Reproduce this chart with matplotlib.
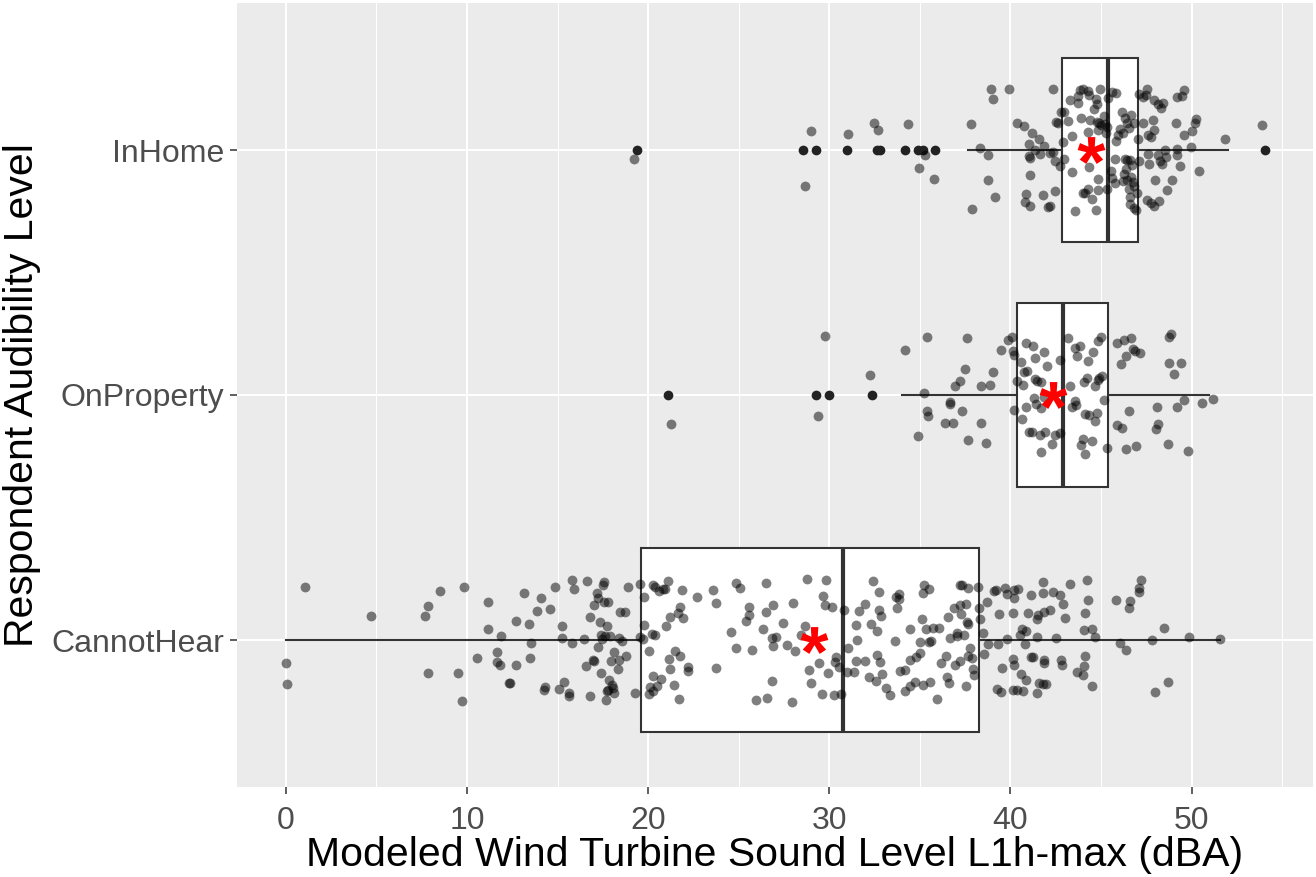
import numpy as np
import matplotlib
matplotlib.use("Agg")
import matplotlib.pyplot as plt
from matplotlib.textpath import TextPath
from matplotlib.font_manager import FontProperties
from matplotlib.path import Path
from matplotlib.ticker import MultipleLocator, FixedLocator

plt.rcParams["font.family"] = ["Liberation Sans", "DejaVu Sans"]

# ---------------------------------------------------------------- data
categories = ["CannotHear", "OnProperty", "InHome"]

# five-number summaries and means per audibility group (dBA)
box_q1 = [19.60, 40.37, 42.84]
box_median = [30.75, 42.89, 45.40]
box_q3 = [38.25, 45.40, 47.05]
whisker_low = [0.00, 34.00, 37.64]
whisker_high = [51.54, 50.96, 52.00]
group_mean = [29.15, 42.36, 44.46]

outliers_cannot_hear = []
outliers_on_property = [21.09, 29.24, 29.98, 32.36]
outliers_in_home = [19.36, 28.55, 29.26, 30.98, 32.63, 32.78, 34.16, 34.92,
                    35.19, 35.86, 54.03]

# respondents: (sound level dBA, vertical jitter in category units)
points_cannot_hear = [
    (1.05, 0.218), (4.69, 0.10), (0.0, -0.094), (0.05, -0.18), (7.83, 0.14),
    (7.68, 0.10), (8.53, 0.20), (9.85, 0.215), (7.83, -0.135), (9.52, -0.136),
    (9.71, -0.248), (11.16, 0.154), (11.14, 0.045), (11.86, 0.018), (10.57, -0.075),
    (11.65, -0.05), (11.65, -0.09), (11.82, -0.10), (12.32, -0.177), (12.38, -0.177),
    (12.72, -0.10), (12.70, 0.078), (13.13, 0.193), (13.42, 0.065), (13.55, -0.014),
    (13.47, -0.073), (13.84, 0.117), (14.08, 0.171), (14.58, 0.125), (14.83, 0.215),
    (15.24, 0.058), (15.24, 0.008), (15.77, -0.012), (14.28, -0.19), (14.25, -0.204),
    (15.07, -0.20), (15.35, -0.17), (15.64, -0.216), (15.64, -0.23), (15.79, 0.244),
    (15.88, 0.207), (16.6, 0.24), (16.43, 0.004), (16.78, 0.093), (16.99, 0.141),
    (17.19, 0.193), (17.24, 0.17), (17.54, 0.238), (17.52, 0.226), (17.57, 0.155),
    (17.78, 0.155), (17.33, 0.073), (17.74, 0.058), (17.41, 0.02), (17.59, 0.015),
    (17.87, 0.015), (17.44, 0.004), (17.21, -0.03), (16.56, -0.105), (16.93, -0.082),
    (16.99, -0.087), (17.37, -0.135), (16.78, -0.23), (17.65, -0.245), (17.81, -0.165),
    (17.98, -0.182), (18.07, -0.196), (17.78, -0.203), (17.72, -0.207), (18.13, -0.218),
    (18.11, -0.05), (17.96, -0.087), (18.38, -0.082), (18.33, -0.118), (18.75, -0.064),
    (18.38, 0.007), (18.57, -0.005), (18.47, 0.113), (18.70, 0.116), (18.86, 0.218),
    (19.56, 0.227), (19.28, -0.218), (19.54, 0.014), (19.76, 0.174), (19.76, 0.06),
    (19.72, 0.003), (20.06, -0.046), (20.22, 0.026), (20.37, 0.02), (20.24, 0.226),
    (20.35, 0.216), (20.57, 0.2), (20.83, 0.207), (20.9, 0.21), (21.12, 0.242),
    (21.84, 0.203), (21.01, 0.057), (21.23, 0.095), (21.62, 0.112), (21.75, 0.135),
    (21.91, 0.091), (21.47, -0.046), (21.78, -0.064), (21.14, -0.078), (21.19, -0.117),
    (22.22, -0.11), (22.19, -0.128), (20.28, -0.146), (20.70, -0.158), (20.51, -0.189),
    (20.09, -0.19), (20.24, -0.208), (20.07, -0.22), (21.43, -0.182), (21.71, -0.24),
    (22.70, 0.174), (23.55, 0.204), (23.75, 0.151), (23.77, -0.116),
    (24.57, 0.033), (24.87, 0.233), (25.09, 0.211), (25.57, 0.135), (25.57, 0.103),
    (25.41, 0.076), (24.87, -0.033), (25.74, -0.039), (26.35, 0.046), (26.52, 0.234),
    (26.48, 0.113), (26.87, 0.144), (26.87, -0.023), (27.04, 0.014), (26.83, 0.007),
    (27.46, 0.068), (27.65, -0.022), (27.98, 0.15), (28.11, -0.045), (26.83, -0.169),
    (25.96, -0.244), (26.57, -0.237), (27.96, -0.252), (28.63, 0.059), (28.46, 0.02),
    (28.74, 0.249), (29.8, 0.244), (29.65, 0.181), (29.76, 0.141), (30.15, 0.135),
    (29.43, -0.093), (28.87, -0.124), (28.96, -0.177), (29.91, -0.136), (29.59, -0.222),
    (30.28, -0.223), (30.35, -0.068), (30.30, -0.09), (30.54, -0.11), (30.67, -0.219),
    (30.83, 0.121), (31.04, -0.034), (30.98, -0.132), (31.37, -0.129), (31.46, 0.063),
    (31.54, 0.0), (31.63, 0.12), (31.98, 0.148), (31.46, -0.084), (31.98, -0.084),
    (32.17, -0.151), (32.43, 0.242), (32.72, 0.195), (32.74, 0.124), (32.87, 0.097),
    (32.30, 0.067), (32.63, 0.035), (32.63, -0.061), (32.80, -0.088), (32.59, -0.167),
    (32.91, -0.139), (33.15, -0.197), (33.33, -0.224), (33.63, -0.003), (33.76, 0.129),
    (33.7, 0.176), (33.85, 0.189), (33.85, 0.169), (33.91, -0.128), (34.2, -0.121),
    (34.15, -0.207), (34.46, 0.046), (34.46, -0.08), (34.8, -0.068), (34.98, -0.054),
    (35.0, -0.01), (35.09, 0.086), (34.72, -0.173), (34.48, -0.188), (35.17, -0.185),
    (35.2, 0.226), (35.17, 0.19), (35.52, 0.21), (35.35, 0.046), (35.7, 0.048),
    (36.04, 0.049), (35.5, -0.008), (35.63, -0.005), (35.57, -0.17), (35.96, -0.24),
    (36.15, -0.093), (36.46, -0.065), (36.54, 0.095), (36.5, -0.152), (36.63, -0.177),
    (36.67, 0.008), (36.87, 0.129), (36.96, -0.1), (37.02, 0.018), (37.04, 0.029),
    (37.2, 0.141), (37.26, 0.106), (37.2, 0.224), (37.35, 0.223), (37.57, 0.147),
    (37.41, 0.02), (37.24, -0.084), (37.63, 0.214), (37.59, 0.073), (37.67, 0.067),
    (37.78, -0.031), (37.67, -0.065), (37.89, -0.075), (37.93, -0.117), (37.96, -0.144),
    (37.57, -0.189), (38.2, 0.215), (38.24, 0.129), (38.33, 0.087), (38.46, 0.03),
    (38.54, -0.056), (38.7, 0.156), (38.76, -0.015), (39.07, 0.199), (39.22, 0.203),
    (39.30, -0.018), (39.35, 0.106), (39.54, -0.116), (39.7, 0.212), (39.78, 0.188),
    (40.2, 0.17), (40.17, 0.205), (40.39, 0.21), (40.13, 0.112), (39.83, 0.003),
    (39.24, -0.199), (39.48, -0.212), (40.13, -0.204), (40.37, -0.205), (40.67, -0.207),
    (40.13, -0.076), (40.22, -0.102), (40.59, -0.139), (40.85, -0.163), (40.63, 0.046),
    (40.85, 0.038), (40.54, 0.019), (40.8, -0.016), (41.11, -0.069), (41.22, -0.069),
    (40.96, 0.112), (41.15, 0.184), (41.46, 0.084), (41.52, 0.101), (41.48, 0.014),
    (41.48, -0.218), (41.59, -0.177), (41.8, -0.178), (41.98, -0.181), (41.85, -0.082),
    (41.83, -0.095), (41.78, 0.237), (41.78, 0.193), (41.85, 0.116), (42.17, 0.121),
    (42.35, 0.197), (42.5, 0.008), (42.74, 0.184), (42.89, 0.146), (43.02, 0.091),
    (42.8, -0.082), (42.85, -0.103), (43.28, 0.23), (43.65, -0.132), (44.0, -0.141),
    (44.07, -0.105), (44.09, -0.064), (44.09, 0.109), (44.07, 0.042), (44.52, 0.046),
    (44.65, 0.011), (44.22, 0.244), (44.26, 0.165), (44.48, -0.189), (45.83, 0.163),
    (46.07, -0.012), (46.35, -0.041), (46.52, 0.129), (46.59, 0.159), (47.11, 0.195),
    (47.11, 0.214), (47.22, 0.245), (47.8, -0.001), (47.96, -0.212), (48.48, 0.049),
    (48.72, -0.171), (49.85, 0.014), (51.54, 0.003),
]

points_on_property = [
    (21.27, -0.117), (29.39, -0.084), (29.78, 0.239), (32.25, 0.08), (34.16, 0.182),
    (35.4, 0.235), (35.25, 0.007), (35.41, -0.067), (35.47, -0.084), (34.92, -0.167),
    (36.37, -0.113), (36.83, -0.113), (36.67, -0.03), (36.68, -0.037), (36.91, 0.037),
    (37.2, 0.056), (37.33, -0.065), (37.5, 0.106), (37.62, 0.234), (37.66, -0.182),
    (38.36, 0.037), (38.36, -0.116), (38.88, 0.042), (39.04, 0.094), (38.64, -0.195),
    (39.47, 0.182),
    (39.85, 0.226), (40.11, 0.237), (40.15, 0.178), (40.2, 0.162), (40.57, 0.135),
    (40.77, 0.095), (40.9, 0.097), (40.37, 0.059), (40.7, 0.039), (40.88, 0.214),
    (41.22, 0.2), (41.33, 0.151), (41.84, 0.174), (42.04, 0.12), (42.71, 0.143),
    (41.34, 0.065), (41.44, 0.056), (41.68, 0.053), (41.29, -0.012), (41.4, -0.037),
    (41.66, -0.053), (41.84, -0.008), (40.18, -0.06), (40.87, -0.05), (40.61, -0.099),
    (41.01, -0.15), (41.2, -0.15), (41.62, -0.163), (41.9, -0.15), (42.45, -0.163),
    (42.3, -0.199), (42.74, -0.154), (41.68, -0.231), (43.17, 0.234), (43.57, 0.192),
    (43.85, 0.201), (43.68, 0.161), (44.55, 0.176), (44.29, 0.14), (44.83, 0.219),
    (45.01, 0.235), (43.3, 0.035), (44.07, 0.053), (44.2, 0.068), (44.68, 0.037),
    (44.81, 0.063), (44.9, 0.071), (45.05, 0.078), (43.55, -0.023), (43.59, -0.039),
    (43.41, -0.049), (44.09, -0.079), (44.36, -0.082), (44.79, -0.072), (44.66, -0.107),
    (45.14, -0.019), (44.0, -0.178), (43.92, -0.203), (44.48, -0.186), (44.14, -0.241),
    (45.34, -0.215), (45.89, 0.214), (46.24, 0.224), (46.63, 0.233), (46.37, 0.161),
    (46.1, 0.125), (46.76, 0.188), (46.85, 0.178), (47.15, 0.17), (46.54, -0.067),
    (45.89, -0.121), (46.17, -0.135), (46.35, -0.219), (46.94, -0.208), (48.08, -0.049),
    (48.14, -0.118), (48.03, -0.14), (48.69, -0.201), (48.75, 0.235), (48.88, 0.249),
    (48.75, 0.132), (49.41, 0.132), (49.02, 0.086), (49.21, -0.049), (49.56, -0.019),
    (49.82, -0.23), (50.57, -0.033), (51.2, -0.018),
]

points_in_home = [
    (19.21, -0.037), (29.0, 0.079), (28.66, -0.147), (31.05, 0.064), (32.47, 0.112),
    (32.71, 0.083), (34.33, 0.107), (35.29, -0.019), (34.95, -0.072), (35.78, -0.117),
    (37.83, 0.106), (37.86, -0.239), (38.32, 0.007),
    (38.95, 0.248), (39.02, 0.207), (39.91, 0.25), (38.75, -0.02), (38.78, -0.122),
    (39.12, -0.19), (40.35, 0.11), (40.76, 0.097), (41.2, 0.069), (41.58, 0.046),
    (41.01, 0.026), (41.33, 0.001), (41.84, 0.015), (41.64, -0.018), (41.01, -0.023),
    (41.09, -0.031), (41.1, -0.102), (40.87, -0.178), (40.79, -0.211), (41.1, -0.229),
    (41.79, -0.182), (42.06, -0.231), (42.17, -0.229), (42.45, -0.169), (42.32, 0.25),
    (42.17, -0.012), (42.36, -0.01), (42.47, -0.045), (42.76, -0.064), (42.52, 0.114),
    (42.63, 0.11), (42.8, 0.155), (42.93, 0.154), (42.91, 0.031), (42.97, -0.037),
    (43.26, 0.205), (43.2, 0.12), (43.37, 0.056), (43.39, -0.088), (43.74, 0.219),
    (43.74, 0.193), (43.85, 0.246), (44.01, 0.248), (44.29, 0.239), (44.35, 0.226),
    (43.89, 0.129), (44.27, 0.073), (44.40, 0.124), (44.35, -0.071), (44.84, -0.12),
    (44.83, -0.165), (44.49, -0.201), (44.29, -0.159), (43.99, -0.177), (44.09, -0.176),
    (43.54, -0.248), (44.71, -0.244), (44.94, 0.249), (44.73, 0.207), (44.79, 0.186),
    (44.6, 0.166), (44.75, 0.116), (44.86, 0.11), (44.81, 0.08), (45.01, 0.101),
    (45.17, 0.137), (45.21, 0.105), (45.32, 0.094), (45.36, 0.212), (45.25, 0.069),
    (45.34, -0.158), (45.6, 0.235), (45.8, 0.231), (45.54, -0.087), (45.58, -0.113),
    (45.75, -0.135), (45.82, 0.037), (45.78, -0.037), (45.93, 0.063), (46.17, 0.155),
    (46.06, 0.087), (46.19, 0.069), (46.30, 0.129), (46.43, 0.112), (46.54, 0.091),
    (46.67, 0.141), (46.83, 0.11), (46.32, -0.038), (46.45, -0.039), (46.61, -0.039),
    (46.70, -0.06), (46.39, -0.076), (46.26, -0.097), (46.21, -0.128), (46.43, -0.124),
    (46.65, -0.11), (46.74, -0.129), (46.52, -0.158), (46.81, -0.147), (46.59, -0.192),
    (46.61, -0.219), (46.81, -0.235), (46.94, -0.244), (47.02, 0.044), (47.11, -0.046),
    (47.11, 0.23), (47.31, 0.216), (47.53, 0.248), (47.5, 0.226), (47.33, 0.112),
    (47.59, 0.063), (47.73, 0.053), (47.86, 0.121), (47.9, 0.08), (47.59, -0.015),
    (47.66, -0.056), (47.0, -0.174), (47.55, -0.203), (47.77, -0.215), (47.92, -0.229),
    (48.18, -0.21), (47.99, -0.124), (47.92, 0.205), (48.14, 0.189), (48.29, 0.173),
    (48.42, 0.192), (48.12, -0.022), (48.23, -0.045), (48.36, -0.056), (48.55, -0.001),
    (48.6, -0.029), (48.64, -0.165), (48.91, -0.124), (49.12, 0.112), (49.21, 0.005),
    (49.21, -0.02), (49.34, -0.067), (49.21, 0.216), (49.47, 0.22), (49.6, 0.246),
    (49.56, 0.061), (49.96, 0.012), (50.04, 0.078), (50.17, 0.112), (50.26, 0.127),
    (50.39, -0.084), (51.82, 0.045), (53.9, 0.101),
]

x_label = "Modeled Wind Turbine Sound Level L1h-max (dBA)"
y_label = "Respondent Audibility Level"
x_ticks = [0, 10, 20, 30, 40, 50]

# ---------------------------------------------------------------- figure
fig = plt.figure(figsize=(13.16, 8.77), dpi=100)
ax = fig.add_axes([237 / 1316, 1 - 787 / 877, 1076 / 1316, 784 / 877])

positions = np.arange(1, len(categories) + 1)
panel_bg = "#EBEBEB"
ink = "#333333"

ax.set_facecolor(panel_bg)
for s in ax.spines.values():
    s.set_visible(False)

ax.set_xlim(-2.7, 56.7)
ax.set_ylim(0.4, 3.6)

ax.xaxis.set_major_locator(FixedLocator(x_ticks))
ax.xaxis.set_minor_locator(MultipleLocator(5))
ax.set_xticklabels([str(t) for t in x_ticks])
ax.set_yticks(positions)
ax.set_yticklabels(categories)

ax.grid(which="major", color="white", linewidth=1.5, zorder=0)
ax.grid(which="minor", axis="x", color="white", linewidth=0.75, zorder=0)
ax.set_axisbelow(True)

ax.tick_params(axis="both", which="major", length=5.0, width=1.1, color=ink,
               labelsize=23, labelcolor="#4D4D4D")
ax.tick_params(axis="x", which="major", pad=9)
ax.tick_params(axis="y", which="major", pad=4)
ax.tick_params(axis="x", which="minor", length=0)

# boxplots built from the summary statistics
stats = []
fliers = [outliers_cannot_hear, outliers_on_property, outliers_in_home]
for i in range(len(categories)):
    stats.append(dict(q1=box_q1[i], med=box_median[i], q3=box_q3[i],
                      whislo=whisker_low[i], whishi=whisker_high[i],
                      fliers=fliers[i], mean=group_mean[i]))

ax.bxp(stats, positions=positions, widths=0.75, orientation="horizontal",
       showcaps=False, showmeans=False, patch_artist=True,
       boxprops=dict(facecolor="white", edgecolor=ink, linewidth=1.5),
       medianprops=dict(color=ink, linewidth=3.0, solid_capstyle="butt"),
       whiskerprops=dict(color=ink, linewidth=1.5),
       flierprops=dict(marker="o", markerfacecolor="#222222",
                       markeredgecolor="none", markersize=7.0),
       manage_ticks=False, zorder=2)

# jittered respondents
for pos, pts in zip(positions, [points_cannot_hear, points_on_property, points_in_home]):
    arr = np.array(pts)
    ax.scatter(arr[:, 0], pos + arr[:, 1], s=50, color="black", alpha=0.5,
               linewidths=0, zorder=3)

# red asterisk marking the group mean, centred on its own outline
fp = FontProperties(family="Liberation Sans", weight="bold")
tp = TextPath((0, 0), "*", size=1, prop=fp)
verts = tp.vertices.copy()
drawn = tp.codes != Path.CLOSEPOLY
centre = (verts[drawn].min(axis=0) + verts[drawn].max(axis=0)) / 2
verts[~drawn] = centre
star = Path(verts - centre, tp.codes)
ax.plot(group_mean, positions, linestyle="none", marker=star, markersize=20,
        color="red", markeredgewidth=0, zorder=5)

ax.set_xlabel(x_label, fontsize=29.5, color="black", labelpad=0)
ax.set_ylabel(y_label, fontsize=29.5, color="black", labelpad=8)

fig.savefig("out.png", dpi=100, facecolor="white")
